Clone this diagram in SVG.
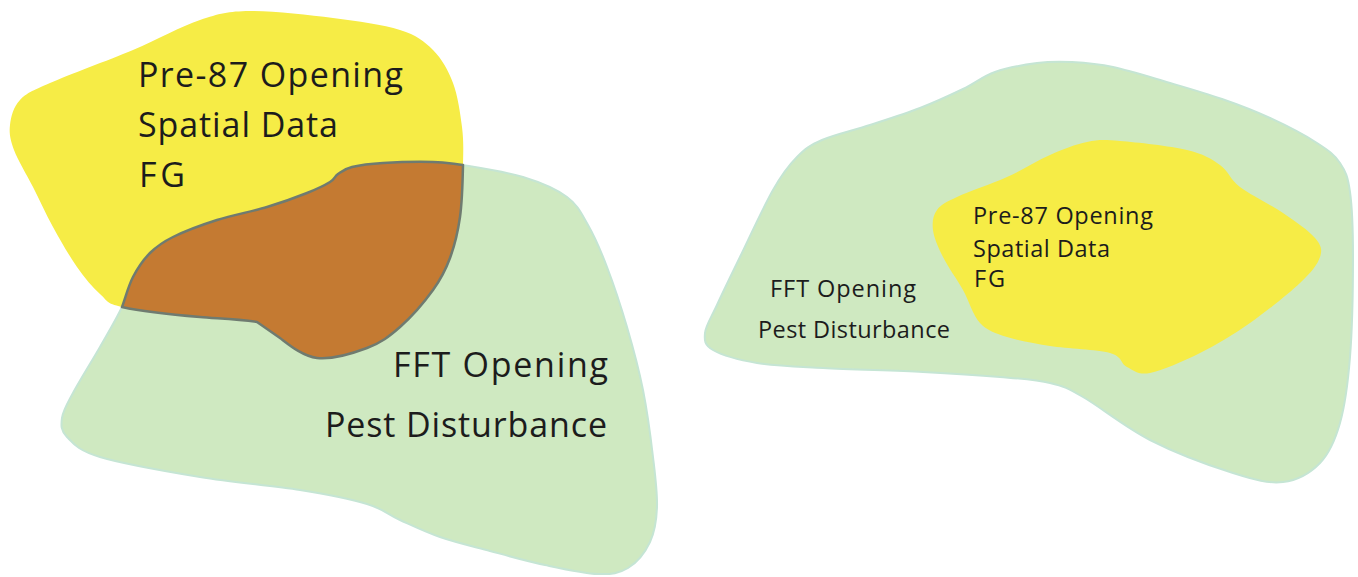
<svg xmlns="http://www.w3.org/2000/svg" width="1358" height="577" viewBox="0 0 1358 577">
<style>
.green{fill:#cfe9c1;stroke:#c5e5d4;stroke-width:2}
.yellow{fill:#f6ec46}
.brown{fill:#c47a32;stroke:#6f7b70;stroke-width:2.5;stroke-linejoin:round}
.big{font-family:"Open Sans","Liberation Sans",sans-serif;font-size:34px;fill:#1c1c1c}
.small{font-family:"Open Sans","Liberation Sans",sans-serif;font-size:23.5px;fill:#1c1c1c}
</style>
<rect width="1358" height="577" fill="#ffffff"/>
<g id="left-fft">
<path class="green" d="M463,165 C478,167.5 505.7,171.7 523,177 C540.3,182.3 556.2,189 567,197 C577.8,205 581.3,213.3 588,225 C594.7,236.7 600.5,250 607,267 C613.5,284 621,306.5 627,327 C633,347.5 638.7,368.3 643,390 C647.3,411.7 650.7,437.5 653,457 C655.3,476.5 657.5,492.8 657,507 C656.5,521.2 654.8,531.8 650,542 C645.2,552.2 636.7,562.7 628,568 C619.3,573.3 611.8,574.5 598,574 C584.2,573.5 563,568.8 545,565 C527,561.2 507.5,555.7 490,551 C472.5,546.3 455,542.2 440,537 C425,531.8 412.2,525.5 400,520 C387.8,514.5 383.7,509 367,504 C350.3,499 327.8,494.5 300,490 C272.2,485.5 233.3,482.5 200,477 C166.7,471.5 122.2,463.7 100,457 C77.8,450.3 73.3,443.5 67,437 C60.7,430.5 61,425.3 62,418 C63,410.7 66.7,404.8 73,393 C79.3,381.2 91.8,361.3 100,347 C108.2,332.7 116.5,318.7 122,307 C127.5,295.3 128.3,286 133,277 C137.7,268 143.3,259.7 150,253 C156.7,246.3 161.8,242.5 173,237 C184.2,231.5 201.3,225 217,220 C232.7,215 252,211.5 267,207 C282,202.5 296.5,197.2 307,193 C317.5,188.8 324.8,185.2 330,182 C335.2,178.8 334.3,176.5 338,174 C341.7,171.5 344.5,168.8 352,167 C359.5,165.2 369.5,163.8 383,163 C396.5,162.2 419.7,161.7 433,162 C446.3,162.3 453,164 463,165 Z"/>
<text class="big" x="393" y="377" textLength="215">FFT Opening</text>
<text class="big" x="325" y="437" textLength="282">Pest Disturbance</text>
</g>
<g id="left-pre87">
<path class="yellow" d="M122,307 C105.3,303.2 107.5,300.7 100,294 C92.5,287.3 84.8,278.2 77,267 C69.2,255.8 60.3,240.3 53,227 C45.7,213.7 39.5,199.8 33,187 C26.5,174.2 17.8,160.3 14,150 C10.2,139.7 9,133.3 10,125 C11,116.7 13.3,107 20,100 C26.7,93 31.2,91.3 50,83 C68.8,74.7 108,60.5 133,50 C158,39.5 180.5,26.5 200,20 C219.5,13.5 227.8,11.3 250,11 C272.2,10.7 308,14.8 333,18 C358,21.2 383.3,24.7 400,30 C416.7,35.3 424.2,41.2 433,50 C441.8,58.8 448.2,70.2 453,83 C457.8,95.8 460.3,113.3 462,127 C463.7,140.7 463.3,150 463,165 C462.7,180 462.2,201.5 460,217 C457.8,232.5 454.5,245.8 450,258 C445.5,270.2 441.3,278.5 433,290 C424.7,301.5 411,317.3 400,327 C389,336.7 380.8,342.8 367,348 C353.2,353.2 331.5,359.7 317,358 C302.5,356.3 288,344 280,338 L257,322 C235,318.5 215,318.5 200,317 C170,314.5 140,311 122,307 Z"/>
<text class="big" x="138" y="87" textLength="265">Pre-87 Opening</text>
<text class="big" x="138" y="137" textLength="200">Spatial Data</text>
<text class="big" x="139" y="187" textLength="46">FG</text>
</g>
<g id="left-overlap">
<path class="brown" d="M463,165 C462.7,180 462.2,201.5 460,217 C457.8,232.5 454.5,245.8 450,258 C445.5,270.2 441.3,278.5 433,290 C424.7,301.5 411,317.3 400,327 C389,336.7 380.8,342.8 367,348 C353.2,353.2 331.5,359.7 317,358 C302.5,356.3 288,344 280,338 L257,322 C235,318.5 215,318.5 200,317 C170,314.5 140,311 122,307 C125.7,297 128.3,286 133,277 C137.7,268 143.3,259.7 150,253 C156.7,246.3 161.8,242.5 173,237 C184.2,231.5 201.3,225 217,220 C232.7,215 252,211.5 267,207 C282,202.5 296.5,197.2 307,193 C317.5,188.8 324.8,185.2 330,182 C335.2,178.8 334.3,176.5 338,174 C341.7,171.5 344.5,168.8 352,167 C359.5,165.2 369.5,163.8 383,163 C396.5,162.2 419.7,161.7 433,162 C446.3,162.3 453,164 463,165 Z"/>
</g>
<g id="right-fft">
<path class="green" d="M705,333 C705.7,325.5 711.2,317.7 717,305 C722.8,292.3 730.7,276.2 740,257 C749.3,237.8 763.5,206.7 773,190 C782.5,173.3 788.8,165.3 797,157 C805.2,148.7 809.8,145.3 822,140 C834.2,134.7 853.7,130.3 870,125 C886.3,119.7 904.5,114 920,108 C935.5,102 950.5,95 963,89 C975.5,83 982.7,76.3 995,72 C1007.3,67.7 1024.2,64.7 1037,63 C1049.8,61.3 1059.3,61.3 1072,62 C1084.7,62.7 1096.7,63.5 1113,67 C1129.3,70.5 1151.8,77.7 1170,83 C1188.2,88.3 1205.3,93.2 1222,99 C1238.7,104.8 1254.2,110.7 1270,118 C1285.8,125.3 1305.3,135.5 1317,143 C1328.7,150.5 1334.5,154.8 1340,163 C1345.5,171.2 1347.8,176.3 1350,192 C1352.2,207.7 1353,229.5 1353,257 C1353,284.5 1352.2,329.3 1350,357 C1347.8,384.7 1345,405.3 1340,423 C1335,440.7 1329.5,453.2 1320,463 C1310.5,472.8 1297.5,480.3 1283,482 C1268.5,483.7 1255.2,480 1233,473 C1210.8,466 1175,452.7 1150,440 C1125,427.3 1099.7,406.5 1083,397 C1066.3,387.5 1063.8,386.3 1050,383 C1036.2,379.7 1021.2,378.8 1000,377 C978.8,375.2 952.5,373.5 923,372 C893.5,370.5 850.7,369.5 823,368 C795.3,366.5 775.3,366 757,363 C738.7,360 721.7,355 713,350 C704.3,345 704.3,340.5 705,333 Z"/>
<text class="small" x="770" y="297" textLength="146">FFT Opening</text>
<text class="small" x="758" y="338" textLength="192">Pest Disturbance</text>
</g>
<g id="right-pre87">
<path class="yellow" d="M933,230 C932,222.2 933,215.5 937,210 C941,204.5 945.3,202.5 957,197 C968.7,191.5 991.5,184 1007,177 C1022.5,170 1036.7,160.8 1050,155 C1063.3,149.2 1075.3,144.3 1087,142 C1098.7,139.7 1103.3,139.7 1120,141 C1136.7,142.3 1170.3,146 1187,150 C1203.7,154 1211.2,158.8 1220,165 C1228.8,171.2 1229.5,179 1240,187 C1250.5,195 1270.5,204.5 1283,213 C1295.5,221.5 1308.8,230.7 1315,238 C1321.2,245.3 1322.5,249.5 1320,257 C1317.5,264.5 1311.7,272 1300,283 C1288.3,294 1266.7,311.3 1250,323 C1233.3,334.7 1216.7,344.7 1200,353 C1183.3,361.3 1162.2,370.7 1150,373 C1137.8,375.3 1133.7,370.3 1127,367 C1120.3,363.7 1122.8,356.5 1110,353 C1097.2,349.5 1067.2,348.7 1050,346 C1032.8,343.3 1018.7,340.8 1007,337 C995.3,333.2 987.3,330.8 980,323 C972.7,315.2 969.2,301 963,290 C956.8,279 948,267 943,257 C938,247 934,237.8 933,230 Z"/>
<text class="small" x="973" y="224" textLength="180">Pre-87 Opening</text>
<text class="small" x="973" y="257" textLength="137">Spatial Data</text>
<text class="small" x="974" y="287" textLength="31">FG</text>
</g>
</svg>
